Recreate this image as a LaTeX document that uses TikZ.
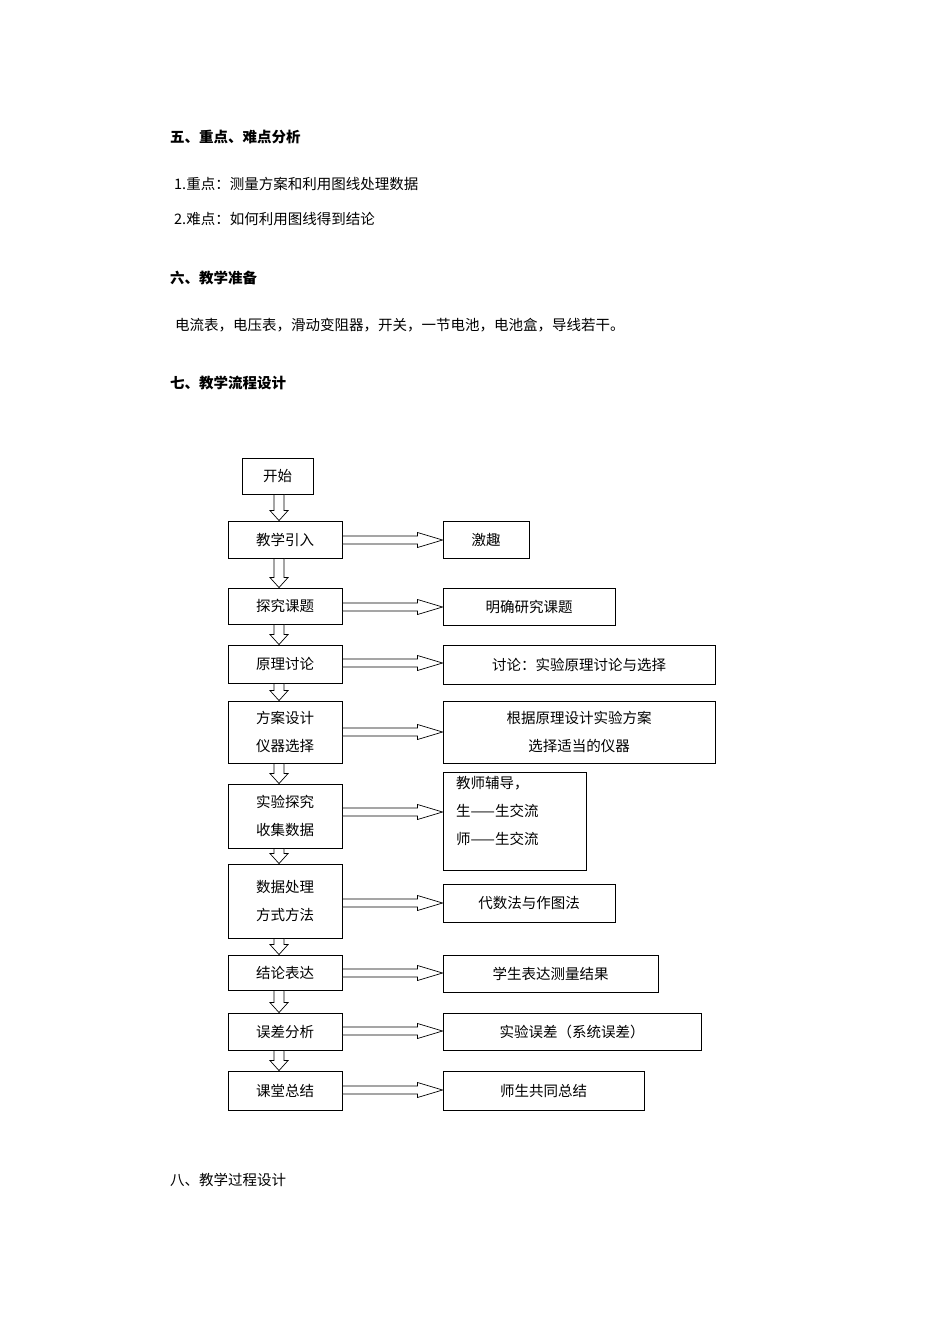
\documentclass[tikz,border=0pt]{standalone}
\usepackage{fontspec}
\usetikzlibrary{calc}
\newfontfamily\cjk{Noto Sans CJK SC}
\begin{document}
\begin{tikzpicture}[x=1pt,y=1pt,
  every node/.style={font=\cjk\fontsize{14.5}{28}\selectfont},
  bx/.style={draw,line width=0.9pt,inner sep=0pt},
  tx/.style={anchor=west,inner sep=0pt},
  arr/.style={draw,line width=0.7pt,fill=white}]
\useasboundingbox (0,0) rectangle (950,-1344);
\newcommand\boxn[6]{\node[bx,minimum width={(#4-#3)*1pt},minimum height={(#6-#5)*1pt},align=center] (#1) at ({(#3+#4)/2},{-(#5+#6)/2}) {#2};}
\newcommand\harr[3]{\path[arr] let \p1=(#1.east), \p2=(#2.west) in
  (\x1,{(-#3+4)*1pt}) -- ({\x2-25pt},{(-#3+4)*1pt}) -- ({\x2-25pt},{(-#3+7.5)*1pt}) -- (\x2,{-#3*1pt}) -- ({\x2-25pt},{(-#3-7.5)*1pt}) -- ({\x2-25pt},{(-#3-4)*1pt}) -- (\x1,{(-#3-4)*1pt}) -- cycle;}
\newcommand\varr[2]{\path[arr] let \p1=(#1.south), \p2=(#2.north) in
  (274,\y1) -- (274,{\y2+10pt}) -- (270,{\y2+10pt}) -- (279,\y2) -- (288,{\y2+10pt}) -- (284,{\y2+10pt}) -- (284,\y1) -- cycle;}

\node[tx,font=\cjk\bfseries\fontsize{14.5}{18}\selectfont] (h5) at (170,-137) {五、重点、难点分析};
\node[tx] (l1) at (174,-184) {1.重点：测量方案和利用图线处理数据};
\node[tx] (l2) at (174,-219) {2.难点：如何利用图线得到结论};
\node[tx,font=\cjk\bfseries\fontsize{14.5}{18}\selectfont] (h6) at (170,-278) {六、教学准备};
\node[tx] (l3) at (175,-325) {电流表，电压表，滑动变阻器，开关，一节电池，电池盒，导线若干。};
\node[tx,font=\cjk\bfseries\fontsize{14.5}{18}\selectfont] (h7) at (170,-383) {七、教学流程设计};
\node[tx] (h8) at (170,-1180) {八、教学过程设计};

\boxn{s}{开始}{242}{313}{458}{494}
\boxn{a1}{教学引入}{228}{342}{521}{558}
\boxn{b1}{激趣}{443}{529}{521}{558}
\boxn{a2}{探究课题}{228}{342}{588}{624}
\boxn{b2}{明确研究课题}{443}{615}{588}{625}
\boxn{a3}{原理讨论}{228}{342}{645}{683}
\boxn{b3}{讨论：实验原理讨论与选择}{443}{715}{645}{684}
\boxn{a4}{方案设计\\仪器选择}{228}{342}{701}{763}
\boxn{b4}{根据原理设计实验方案\\选择适当的仪器}{443}{715}{701}{763}
\boxn{a5}{实验探究\\收集数据}{228}{342}{784}{848}
\node[bx,minimum width=143pt,minimum height=98pt] (b5) at (514.5,-821) {};
\node[tx,align=left,anchor=north west] (b5t) at (456,-776) {教师辅导，\\生——生交流\\师——生交流};
\boxn{a6}{数据处理\\方式方法}{228}{342}{864}{938}
\boxn{b6}{代数法与作图法}{443}{615}{884}{922}
\boxn{a7}{结论表达}{228}{342}{955}{990}
\boxn{b7}{学生表达测量结果}{443}{658}{955}{992}
\boxn{a8}{误差分析}{228}{342}{1013}{1050}
\boxn{b8}{实验误差（系统误差）}{443}{701}{1013}{1050}
\boxn{a9}{课堂总结}{228}{342}{1071}{1110}
\boxn{b9}{师生共同总结}{443}{644}{1071}{1110}

\varr{s}{a1}
\varr{a1}{a2}
\varr{a2}{a3}
\varr{a3}{a4}
\varr{a4}{a5}
\varr{a5}{a6}
\varr{a6}{a7}
\varr{a7}{a8}
\varr{a8}{a9}
\harr{a1}{b1}{540}
\harr{a2}{b2}{607}
\harr{a3}{b3}{663}
\harr{a4}{b4}{732}
\harr{a5}{b5}{812}
\harr{a6}{b6}{903}
\harr{a7}{b7}{973}
\harr{a8}{b8}{1031}
\harr{a9}{b9}{1090}
\end{tikzpicture}
\end{document}
